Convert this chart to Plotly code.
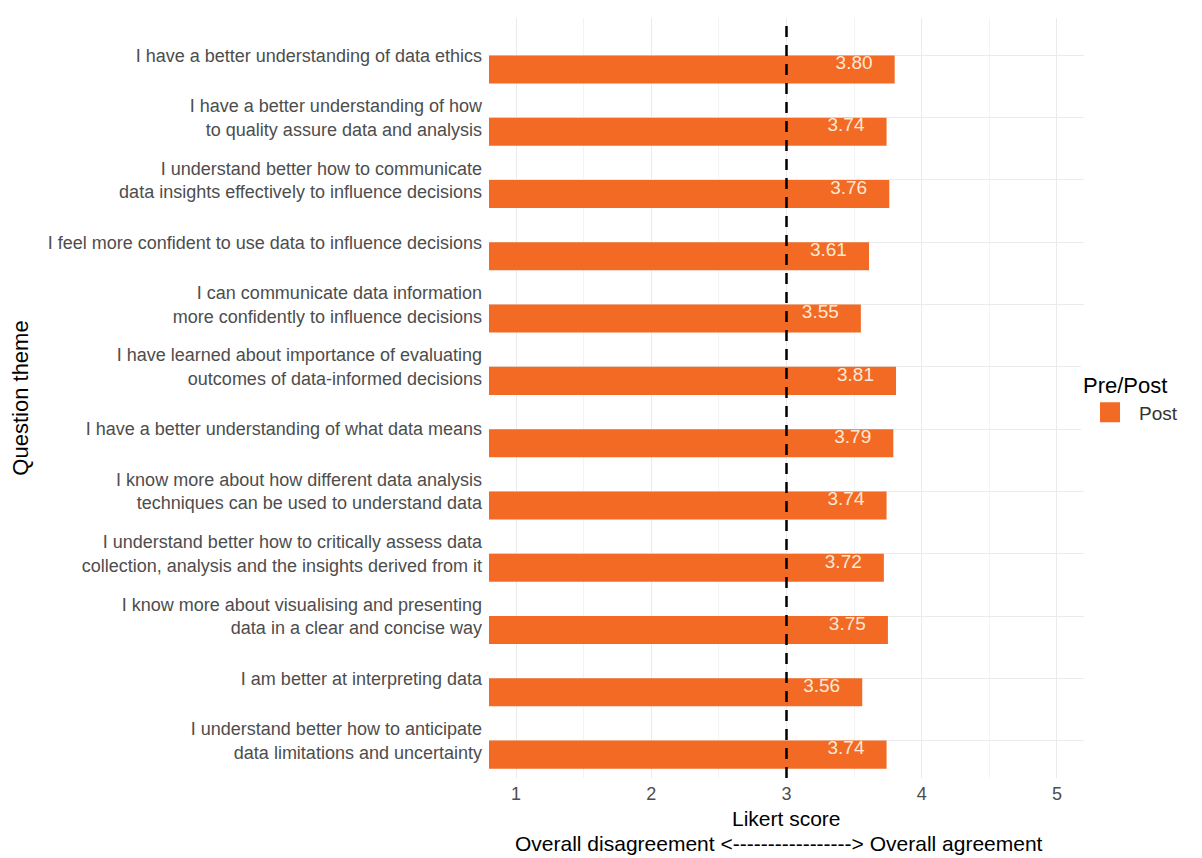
import plotly.graph_objects as go

questions = [
    "I have a better understanding of data ethics",
    "I have a better understanding of how<br>to quality assure data and analysis",
    "I understand better how to communicate<br>data insights effectively to influence decisions",
    "I feel more confident to use data to influence decisions",
    "I can communicate data information<br>more confidently to influence decisions",
    "I have learned about importance of evaluating<br>outcomes of data-informed decisions",
    "I have a better understanding of what data means",
    "I know more about how different data analysis<br>techniques can be used to understand data",
    "I understand better how to critically assess data<br>collection, analysis and the insights derived from it",
    "I know more about visualising and presenting<br>data in a clear and concise way",
    "I am better at interpreting data",
    "I understand better how to anticipate<br>data limitations and uncertainty",
]
post_scores = [3.80, 3.74, 3.76, 3.61, 3.55, 3.81, 3.79, 3.74, 3.72, 3.75, 3.56, 3.74]
x_ticks = [1, 2, 3, 4, 5]
x_title_lines = ["Likert score", "Overall disagreement <-----------------> Overall agreement"]

ORANGE = "#F26A24"
FONT = "Liberation Sans, Arial, sans-serif"

pos = list(range(len(questions)))
score_labels = [f"{v:.2f}" for v in post_scores]

fig = go.Figure()
fig.add_trace(go.Bar(
    x=post_scores, y=pos, orientation="h", base=0,
    width=0.45, offset=0, marker=dict(color=ORANGE, line=dict(width=0)),
    showlegend=False, hoverinfo="skip",
))
fig.add_trace(go.Scatter(
    x=[v - 0.3 for v in post_scores], y=[p + 0.145 for p in pos],
    mode="text", text=score_labels,
    textfont=dict(family=FONT, size=19, color="#FBE8D6"),
    showlegend=False, hoverinfo="skip",
))
fig.add_trace(go.Scatter(
    x=[None], y=[None], mode="markers", name="Post",
    marker=dict(symbol="square", size=16, color=ORANGE, line=dict(color=ORANGE, width=4)),
))

fig.add_shape(type="line", x0=3, x1=3, y0=0, y1=1, xref="x", yref="paper",
              line=dict(color="black", width=2.5, dash="11px,8px"))

fig.add_annotation(text=x_title_lines[0], x=0.5, y=0, xref="paper", yref="paper",
                   xanchor="center", yanchor="middle", yshift=-40, showarrow=False,
                   font=dict(size=21, color="black"))
fig.add_annotation(text=x_title_lines[1], x=0.5, y=0, xref="paper", yref="paper",
                   xanchor="center", yanchor="middle", yshift=-65, xshift=-8, showarrow=False,
                   font=dict(size=21, color="black"))

fig.update_layout(
    width=1194, height=850,
    margin=dict(l=481, r=118, t=10, b=80, autoexpand=False),
    paper_bgcolor="white", plot_bgcolor="white",
    font=dict(family=FONT, color="#4D4D4D", size=18),
    legend=dict(
        title=dict(text="Pre/Post", font=dict(size=22, color="black")),
        font=dict(size=19, color="#333333"),
        x=0.995, xanchor="left", y=0.4995, yanchor="middle",
        itemsizing="trace", itemwidth=48,
    ),
    xaxis=dict(
        range=[0.8, 5.2], tickvals=x_ticks, ticktext=[str(t) for t in x_ticks],
        showgrid=True, gridcolor="#EBEBEB", gridwidth=1,
        minor=dict(dtick=0.5, tick0=0.5, showgrid=True, gridcolor="#F3F3F3", gridwidth=1),
        zeroline=False, showline=False, ticks="", automargin=False,
        tickfont=dict(size=18, color="#4D4D4D"), ticklabelstandoff=3,
    ),
    yaxis=dict(
        range=[11.6, -0.6], tickvals=pos, ticktext=questions,
        showgrid=True, gridcolor="#EBEBEB", gridwidth=1,
        zeroline=False, showline=False, ticks="", automargin=False,
        tickfont=dict(size=18, color="#4D4D4D"), ticklabelstandoff=6,
        title=dict(text="Question theme", font=dict(size=22, color="black"), standoff=25),
    ),
)

fig.write_html("out.html")
